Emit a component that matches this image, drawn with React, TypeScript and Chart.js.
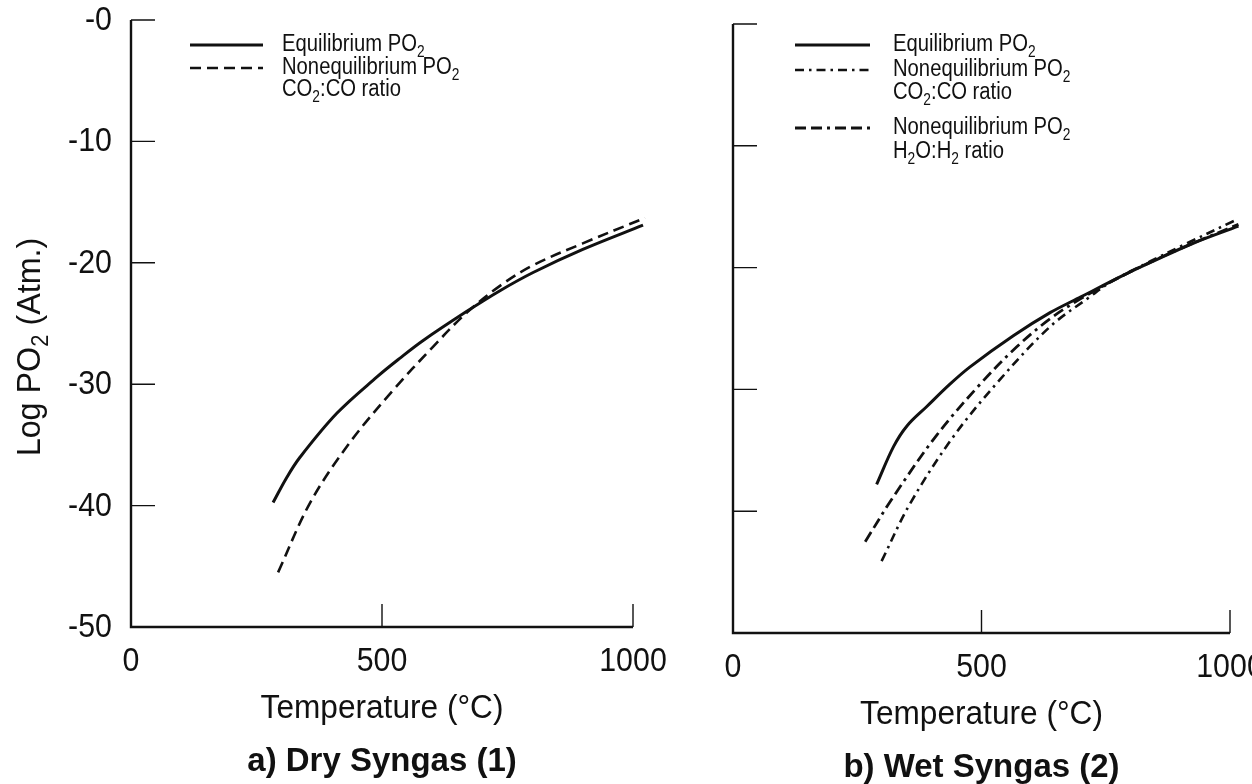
import React, { useEffect, useRef } from 'react';
import { Chart, registerables } from 'chart.js';
Chart.register(...registerables);

// ---- axes ----
const yTicks = [0, -10, -20, -30, -40, -50];
const yTickLabels = ['-0', '-10', '-20', '-30', '-40', '-50'];
const xTicks = [0, 500, 1000];
const xTickLabels = ['0', '500', '1000'];
const xTitle = 'Temperature (°C)';
const yTitle = 'Log PO_2 (Atm.)';
const panelTitles = ['a) Dry Syngas (1)', 'b) Wet Syngas (2)'];

// ---- a) Dry syngas ----
const dryEqT = [283, 310, 337, 410, 490, 536, 582, 669, 735, 801, 900, 1020];
const dryEqLog = [-39.75, -37.7, -36.0, -32.4, -29.4, -27.85, -26.4, -24.0, -22.3, -20.8, -18.9, -16.9];
const dryNonT = [293, 357, 436, 522, 602, 669, 735, 801, 900, 1024];
const dryNonLog = [-45.5, -39.75, -34.8, -30.5, -26.9, -24.1, -21.9, -20.2, -18.4, -16.3];

// ---- b) Wet syngas ----
const wetEqT = [289, 323, 350, 390, 437, 477, 564, 638, 700, 792, 839, 926, 1017];
const wetEqLog = [-37.8, -34.7, -33.0, -31.4, -29.55, -28.15, -25.6, -23.7, -22.4, -20.5, -19.6, -18.0, -16.6];
const wetCo2T = [299, 356, 443, 537, 638, 718, 759, 800, 839, 906, 1014];
const wetCo2Log = [-44.1, -39.4, -33.9, -29.2, -24.85, -22.4, -21.2, -20.3, -19.5, -18.15, -16.05];
const wetH2oT = [266, 323, 410, 500, 571, 638, 700, 792, 900, 1017];
const wetH2oLog = [-42.5, -38.8, -33.75, -29.45, -26.5, -24.2, -22.55, -20.5, -18.45, -16.45];

// ---- legends ----
const dryLegend = [
  { lines: ['Equilibrium PO_2'], dash: [] as number[], width: 3 },
  { lines: ['Nonequilibrium PO_2', 'CO_2:CO ratio'], dash: [11, 6], width: 2.6 },
];
const wetLegend = [
  { lines: ['Equilibrium PO_2'], dash: [] as number[], width: 3 },
  { lines: ['Nonequilibrium PO_2', 'CO_2:CO ratio'], dash: [9, 5, 2.5, 5], width: 2.4 },
  { lines: ['Nonequilibrium PO_2', 'H_2O:H_2 ratio'], dash: [11, 5, 11, 5, 3, 5], width: 2.9 },
];

const FONT = '"Liberation Sans", Arial, Helvetica, sans-serif';
const INK = '#111';

function pts(xs: number[], ys: number[]) {
  return xs.map((x, i) => ({ x, y: ys[i] }));
}

function segs(s: string) {
  return s
    .split(/(_\d)/)
    .filter(Boolean)
    .map((t) => (t.startsWith('_') ? { t: t.slice(1), sub: true } : { t, sub: false }));
}

function richWidth(ctx: CanvasRenderingContext2D, s: string, size: number, bold = false) {
  let w = 0;
  for (const g of segs(s)) {
    ctx.font = `${bold ? 'bold ' : ''}${g.sub ? size * 0.68 : size}px ${FONT}`;
    w += ctx.measureText(g.t).width;
  }
  return w;
}

function drawRich(ctx: CanvasRenderingContext2D, x: number, y: number, s: string, size: number, sx = 1, bold = false) {
  ctx.save();
  ctx.translate(x, y);
  ctx.scale(sx, 1);
  let cx = 0;
  ctx.textAlign = 'left';
  ctx.textBaseline = 'middle';
  for (const g of segs(s)) {
    const fs = g.sub ? size * 0.68 : size;
    ctx.font = `${bold ? 'bold ' : ''}${fs}px ${FONT}`;
    ctx.fillText(g.t, cx, g.sub ? size * 0.32 : 0);
    cx += ctx.measureText(g.t).width;
  }
  ctx.restore();
}

function drawText(
  ctx: CanvasRenderingContext2D,
  t: string,
  x: number,
  y: number,
  size: number,
  align: CanvasTextAlign,
  sx = 1,
  bold = false
) {
  ctx.save();
  ctx.translate(x, y);
  ctx.scale(sx, 1);
  ctx.font = `${bold ? 'bold ' : ''}${size}px ${FONT}`;
  ctx.textAlign = align;
  ctx.textBaseline = 'middle';
  ctx.fillText(t, 0, 0);
  ctx.restore();
}

type PanelCfg = {
  showYLabels: boolean;
  title: string;
  legend: { lines: string[]; dash: number[]; width: number }[];
  legendX0: number;
  legendX1: number;
  legendTextX: number;
  legendRows: number[];
};

function makePlugin(cfg: PanelCfg) {
  return {
    id: 'customAxes',
    afterDraw(chart: any) {
      const ctx: CanvasRenderingContext2D = chart.ctx;
      const xs = chart.scales.x;
      const ys = chart.scales.y;
      const x0 = xs.getPixelForValue(0);
      const xEnd = xs.getPixelForValue(1000);
      const yBot = ys.getPixelForValue(-50);
      const yTop = ys.getPixelForValue(0);
      ctx.save();
      ctx.strokeStyle = INK;
      ctx.fillStyle = INK;
      ctx.setLineDash([]);
      ctx.lineWidth = 2.4;
      ctx.beginPath();
      ctx.moveTo(x0, yTop);
      ctx.lineTo(x0, yBot);
      ctx.lineTo(xEnd, yBot);
      ctx.stroke();
      ctx.lineWidth = 1.4;
      ctx.beginPath();
      yTicks.forEach((v) => {
        if (v > -50) {
          const p = ys.getPixelForValue(v);
          ctx.moveTo(x0, p);
          ctx.lineTo(x0 + 24, p);
        }
      });
      xTicks.forEach((v) => {
        if (v > 0) {
          const p = xs.getPixelForValue(v);
          ctx.moveTo(p, yBot);
          ctx.lineTo(p, yBot - 23);
        }
      });
      ctx.stroke();

      // tick labels
      if (cfg.showYLabels) {
        yTicks.forEach((v, i) => drawText(ctx, yTickLabels[i], x0 - 19, ys.getPixelForValue(v) + 1, 33, 'right', 0.92));
      }
      xTicks.forEach((v, i) => drawText(ctx, xTickLabels[i], xs.getPixelForValue(v), yBot + 35, 33, 'center', 0.92));

      // axis title & panel title
      drawText(ctx, xTitle, xs.getPixelForValue(500), yBot + 82, 34, 'center', 0.93);
      drawText(ctx, cfg.title, xs.getPixelForValue(500), yBot + 135, 34, 'center', 0.97, true);

      if (cfg.showYLabels) {
        const size = 34;
        const w = richWidth(ctx, yTitle, size) * 0.95;
        ctx.save();
        ctx.translate(31, 347 + w / 2);
        ctx.rotate(-Math.PI / 2);
        drawRich(ctx, 0, 0, yTitle, size, 0.95);
        ctx.restore();
      }

      // legend
      let row = 0;
      cfg.legend.forEach((item) => {
        const ly = cfg.legendRows[row];
        ctx.lineWidth = item.width;
        ctx.setLineDash(item.dash);
        ctx.beginPath();
        ctx.moveTo(cfg.legendX0, ly);
        ctx.lineTo(cfg.legendX1, ly);
        ctx.stroke();
        ctx.setLineDash([]);
        item.lines.forEach((t) => {
          drawRich(ctx, cfg.legendTextX, cfg.legendRows[row], t, 23, 0.88);
          row++;
        });
      });
      ctx.restore();
    },
  };
}

function Panel(props: {
  left: number;
  width: number;
  padding: { left: number; right: number; top: number; bottom: number };
  datasets: any[];
  cfg: PanelCfg;
}) {
  const ref = useRef<HTMLCanvasElement>(null);
  useEffect(() => {
    const canvas = ref.current!;
    const chart = new Chart(canvas, {
      type: 'line',
      data: { datasets: props.datasets },
      options: {
        animation: false,
        responsive: false,
        maintainAspectRatio: false,
        layout: { padding: props.padding },
        plugins: { legend: { display: false }, tooltip: { enabled: false } },
        elements: { point: { radius: 0 }, line: { tension: 0.35 } },
        scales: {
          x: { type: 'linear', min: 0, max: 1100, display: false },
          y: { type: 'linear', min: -50, max: 0, display: false },
        },
      },
      plugins: [makePlugin(props.cfg)],
    } as any);
    return () => chart.destroy();
  }, []);
  return (
    <canvas
      ref={ref}
      width={props.width}
      height={784}
      style={{ position: 'absolute', left: props.left, top: 0, width: props.width, height: 784 }}
    />
  );
}

const lineDs = (label: string, data: any[], dash: number[], width: number) => ({
  label,
  data,
  borderColor: INK,
  borderWidth: width,
  borderDash: dash,
  fill: false,
  pointRadius: 0,
  borderCapStyle: 'butt',
});

export default function App() {
  const dryDatasets = [
    lineDs('Equilibrium PO2', pts(dryEqT, dryEqLog), dryLegend[0].dash, 3),
    lineDs('Nonequilibrium PO2 CO2:CO ratio', pts(dryNonT, dryNonLog), dryLegend[1].dash, 2.6),
  ];
  const wetDatasets = [
    lineDs('Equilibrium PO2', pts(wetEqT, wetEqLog), wetLegend[0].dash, 3),
    lineDs('Nonequilibrium PO2 CO2:CO ratio', pts(wetCo2T, wetCo2Log), wetLegend[1].dash, 2.6),
    lineDs('Nonequilibrium PO2 H2O:H2 ratio', pts(wetH2oT, wetH2oLog), wetLegend[2].dash, 2.8),
  ];
  return (
    <div style={{ position: 'fixed', left: 0, top: 0, width: 1252, height: 784, overflow: 'hidden', background: '#fff' }}>
      <Panel
        left={0}
        width={700}
        padding={{ left: 131, top: 20, right: 700 - (131 + 1100 * 0.502), bottom: 784 - 627 }}
        datasets={dryDatasets}
        cfg={{
          showYLabels: true,
          title: panelTitles[0],
          legend: dryLegend,
          legendX0: 190,
          legendX1: 263,
          legendTextX: 282,
          legendRows: [45, 68, 90],
        }}
      />
      <Panel
        left={700}
        width={620}
        padding={{ left: 33, top: 24, right: 620 - (33 + 1100 * 0.497), bottom: 784 - 633 }}
        datasets={wetDatasets}
        cfg={{
          showYLabels: false,
          title: panelTitles[1],
          legend: wetLegend,
          legendX0: 95,
          legendX1: 170,
          legendTextX: 193,
          legendRows: [45, 70, 93, 128, 152],
        }}
      />
    </div>
  );
}
